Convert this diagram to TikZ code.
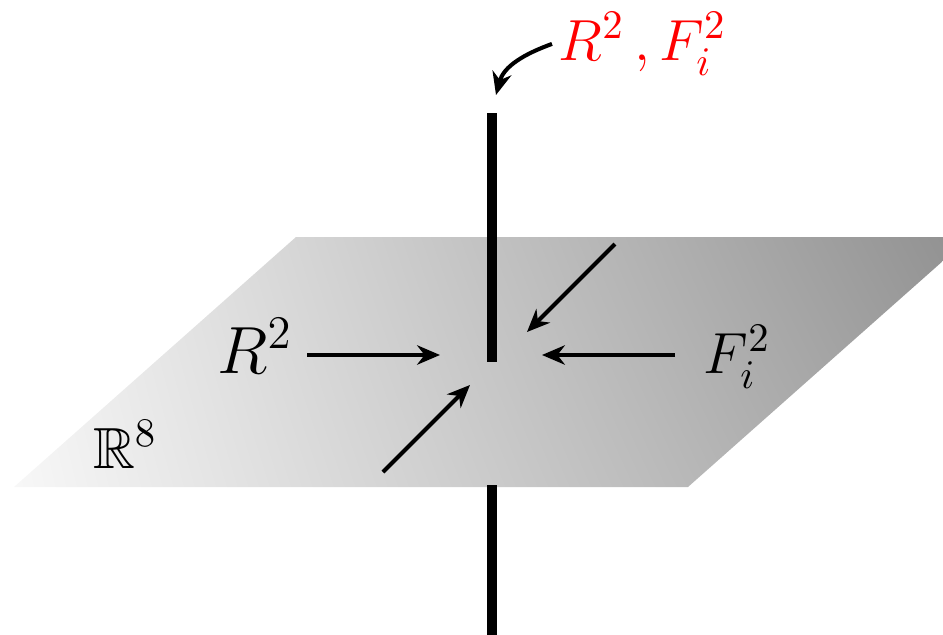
\documentclass[tikz,border=0pt]{standalone}
\usepackage{fix-cm}
\usepackage{amsmath}
\usepackage{amssymb}
\usetikzlibrary{arrows.meta,shadings}

\tikzset{
  flow/.style={-{Stealth[length=6.5pt,width=5.5pt]}, line width=1.15pt},
  rod/.style={line width=2.85pt},
  lbl/.style={font=\fontsize{16.5}{20}\selectfont},
}

\begin{document}
\begin{tikzpicture}
        \clip (0,0) rectangle (9.43,6.34);
        % the plane
        \shade[lower left=gray!6, upper left=gray!10, upper right=gray!87, lower right=gray!76]
            (0.14,1.47) -- (6.88,1.47) -- (9.70,3.97) -- (2.96,3.97) -- cycle;
        \node[lbl, anchor=base] (r8) at (1.25,1.66) {$\mathbb{R}^8$};
        % the line through it
        \draw[rod] (4.92,5.21) -- (4.92,2.72);
        \draw[rod] (4.92,1.49) -- (4.92,-0.1);
        % arrows into the gap
        \coordinate (rtip) at (4.40,2.79);
        \coordinate (ftip) at (5.42,2.79);
        \coordinate (ne) at (6.15,3.90);
        \coordinate (netip) at (5.27,3.02);
        \coordinate (sw) at (3.83,1.62);
        \coordinate (swtip) at (4.70,2.49);
        \node[lbl, font=\fontsize{19}{23}\selectfont, anchor=base east, inner sep=0.14cm] (r2) at (3.07,2.61) {$R^2$};
        \node[lbl, anchor=base west, inner xsep=0.28cm, inner ysep=0.1cm] (fi) at (6.75,2.61) {$F_i^2$};
        \draw[flow] (r2.east |- rtip) -- (rtip);
        \draw[flow] (fi.west |- ftip) -- (ftip);
        \draw[flow] (ne) -- (netip);
        \draw[flow] (sw) -- (swtip);
        % label on the line
        \coordinate (aim) at (4.96,5.39);
        \node[lbl, red, anchor=base west, inner sep=0.06cm] (tag) at (5.52,5.74) {$R^2\,, F_i^2$};
        \draw[flow] (tag.west) to[out=200, in=75] (aim);
\end{tikzpicture}
\end{document}
